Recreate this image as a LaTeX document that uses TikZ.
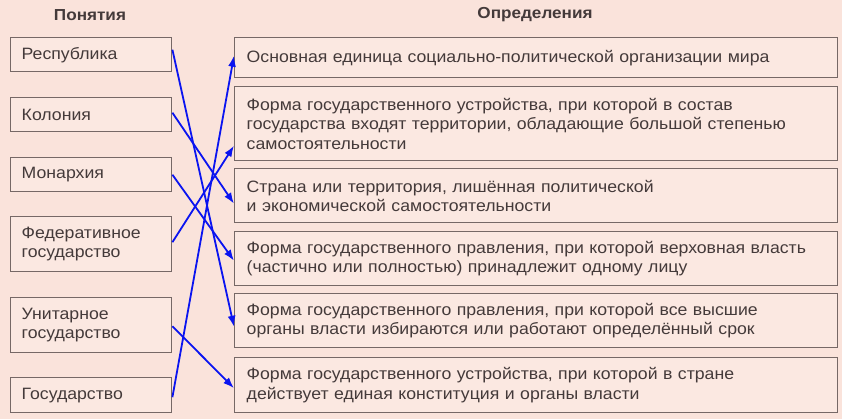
\documentclass[tikz,border=0pt]{standalone}
\usepackage{fontspec}
\setmainfont[FakeStretch=1.075]{Liberation Sans}
\usetikzlibrary{arrows.meta}
\definecolor{paper}{RGB}{250,227,219}
\definecolor{boxfill}{RGB}{251,232,225}
\definecolor{frame}{RGB}{118,104,102}
\definecolor{ink}{RGB}{68,58,58}
\definecolor{pen}{RGB}{10,20,240}
\begin{document}
\begin{tikzpicture}[x=1bp,y=-1bp,
    concept/.style={draw=frame,fill=boxfill,line width=1.4bp,anchor=north west,
      text=ink,font=\fontsize{16.5}{19.5}\selectfont,inner xsep=11bp,inner ysep=0pt,
      text width=139bp,align=left},
    meaning/.style={concept,inner xsep=12bp,text width=579bp},
    head/.style={text=ink,font=\fontsize{16}{18}\selectfont\bfseries},
    link/.style={pen,line width=1.8bp,-{Latex[length=11bp,width=8bp]}}]
      \fill[paper] (0,0) rectangle (842,419);
      \useasboundingbox (0,0) rectangle (842,419);
      % headers
      \node[head] (hl) at (90,15) {Понятия};
      \node[head] (hr) at (535,15) {Определения};
      % concepts
      \node[concept,minimum height=34bp] (rep) at (10,37) {Республика};
      \node[concept,minimum height=34bp] (col) at (10,97) {Колония};
      \node[concept,minimum height=34bp] (mon) at (10,157) {Монархия};
      \node[concept,minimum height=55bp] (fed) at (10,216) {Федеративное\\государство};
      \node[concept,minimum height=55bp] (uni) at (10,297) {Унитарное\\государство};
      \node[concept,minimum height=35bp] (sta) at (10,377) {Государство};
      % definitions
      \node[meaning,minimum height=40bp] (d1) at (234,37)
        {Основная единица социально-политической организации мира};
      \node[meaning,minimum height=74bp] (d2) at (234,86)
        {Форма государственного устройства, при которой в состав\\государства входят территории, обладающие большой степенью\\самостоятельности};
      \node[meaning,minimum height=54bp] (d3) at (234,168)
        {Страна или территория, лишённая политической\\и экономической самостоятельности};
      \node[meaning,minimum height=54bp] (d4) at (234,231)
        {Форма государственного правления, при которой верховная власть\\(частично или полностью) принадлежит одному лицу};
      \node[meaning,minimum height=54bp] (d5) at (234,293)
        {Форма государственного правления, при которой все высшие\\органы власти избираются или работают определённый срок};
      \node[meaning,minimum height=55bp] (d6) at (234,357)
        {Форма государственного устройства, при которой в стране\\действует единая конституция и органы власти};
      % answers
      \draw[link] ([yshift=5bp]rep.east) -- ([yshift=-6bp]d5.west);
      \draw[link] ([yshift=2bp]col.east) -- ([yshift=-8bp]d3.west);
      \draw[link] (mon.east) -- ([yshift=-2bp]d4.west);
      \draw[link] ([yshift=2bp]fed.east) -- ([yshift=-22bp]d2.west);
      \draw[link] ([yshift=-1bp]uni.east) -- ([yshift=-3bp]d6.west);
      \draw[link] ([yshift=-2bp]sta.east) -- ([yshift=2bp]d1.west);
    \end{tikzpicture}
\end{document}
